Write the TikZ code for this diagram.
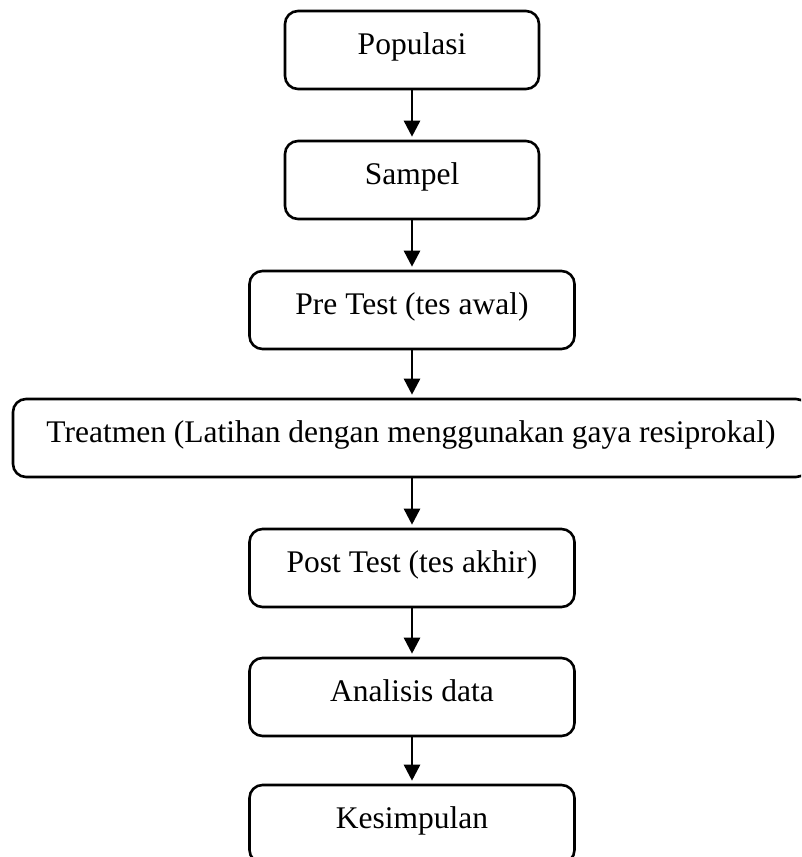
\documentclass[tikz,border=0pt]{standalone}
\usepackage{fontspec}
\setmainfont{Liberation Serif}
\usetikzlibrary{arrows.meta}
\begin{document}
\begin{tikzpicture}[x=1pt,y=-1pt,
  box/.style={draw=black, line width=2.6pt, rounded corners=13pt, minimum height=78pt,
    inner sep=0pt, text height=20pt, text depth=12pt,
    font=\fontsize{31.5}{38}\selectfont},
  arr/.style={line width=2.6pt, -{Triangle[width=16pt,length=16pt]}, shorten >=3pt}]
\useasboundingbox (0,0) rectangle (801,857);
\clip (0,0) rectangle (801,857);
\fill[white] (0,0) rectangle (801,857);
\node[box, minimum width=254pt] (pop) at (412,50) {Populasi};
\node[box, minimum width=254pt] (samp) at (412,180) {Sampel};
\node[box, minimum width=325pt] (pre) at (412,310) {Pre Test (tes awal)};
\node[box, minimum width=796pt] (treat) at (411,438) {Treatmen (Latihan dengan menggunakan gaya resiprokal)};
\node[box, minimum width=325pt] (post) at (412,568) {Post Test (tes akhir)};
\node[box, minimum width=325pt] (ana) at (412,697) {Analisis data};
\node[box, minimum width=325pt] (kes) at (412,824) {Kesimpulan};
\draw[arr] (pop.south) -- (samp.north);
\draw[arr] (samp.south) -- (pre.north);
\draw[arr] (pre.south) -- (pre.south |- treat.north);
\draw[arr] (treat.south -| post.north) -- (post.north);
\draw[arr] (post.south) -- (ana.north);
\draw[arr] (ana.south) -- (kes.north);
\end{tikzpicture}
\end{document}
